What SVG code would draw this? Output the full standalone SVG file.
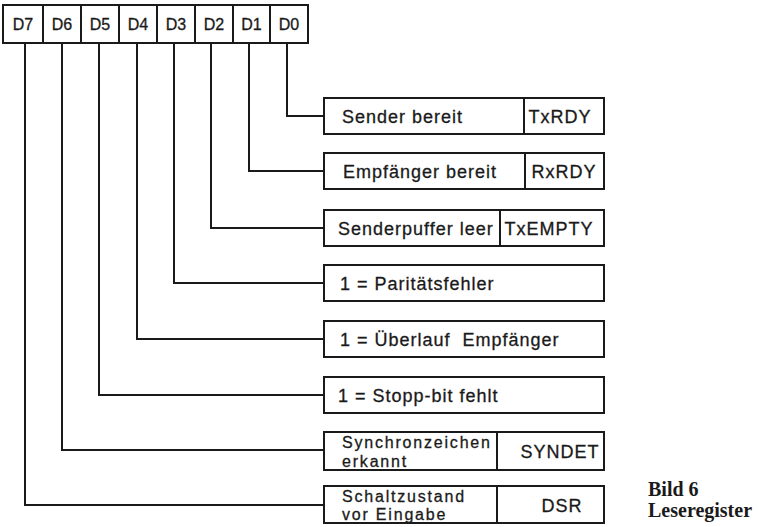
<svg xmlns="http://www.w3.org/2000/svg" width="759" height="527" viewBox="0 0 759 527">
<style>
.bx{fill:#fff;stroke:#1a1a1a;stroke-width:2}
.ln{fill:none;stroke:#1a1a1a;stroke-width:2}
.reg{font-family:"Liberation Sans",Arial,sans-serif;font-size:16px;fill:#1a1a1a;stroke:#1a1a1a;stroke-width:0.3;text-anchor:middle}
.t{font-family:"Liberation Sans",Arial,sans-serif;font-size:18px;letter-spacing:1px;fill:#1a1a1a;stroke:#1a1a1a;stroke-width:0.3}
.s{font-family:"Liberation Sans",Arial,sans-serif;font-size:16px;letter-spacing:1.8px;fill:#1a1a1a;stroke:#1a1a1a;stroke-width:0.3}
.m{text-anchor:middle}
.cap{font-family:"Liberation Serif","Times New Roman",serif;font-size:20px;font-weight:bold;fill:#1a1a1a}
</style>
<g id="register">
<rect class="bx" x="3" y="5" width="305" height="38"/>
<path class="ln" d="M43 5V43M81 5V43M119 5V43M157 5V43M195 5V43M233 5V43M270 5V43"/>
<text class="reg" x="23" y="30">D7</text>
<text class="reg" x="62" y="30">D6</text>
<text class="reg" x="100" y="30">D5</text>
<text class="reg" x="138" y="30">D4</text>
<text class="reg" x="176" y="30">D3</text>
<text class="reg" x="214" y="30">D2</text>
<text class="reg" x="251.5" y="30">D1</text>
<text class="reg" x="289" y="30">D0</text>
</g>
<g id="connectors">
<path class="ln" d="M287 43V116H324"/>
<path class="ln" d="M249 43V171H324"/>
<path class="ln" d="M211 43V228H324"/>
<path class="ln" d="M174 43V283H324"/>
<path class="ln" d="M137 43V339H324"/>
<path class="ln" d="M99 43V395H324"/>
<path class="ln" d="M62 43V450H324"/>
<path class="ln" d="M25 43V505H324"/>
</g>
<g id="d0">
<rect class="bx" x="324" y="98" width="280" height="36"/>
<path class="ln" d="M524 98V134"/>
<text class="t" x="342" y="123">Sender bereit</text>
<text class="t m" x="560" y="123">TxRDY</text>
</g>
<g id="d1">
<rect class="bx" x="324" y="153" width="280" height="36"/>
<path class="ln" d="M525 153V189"/>
<text class="t" x="343" y="178">Empfänger bereit</text>
<text class="t m" x="564" y="178">RxRDY</text>
</g>
<g id="d2">
<rect class="bx" x="324" y="210" width="280" height="36"/>
<path class="ln" d="M500 210V246"/>
<text class="t" x="338" y="235">Senderpuffer leer</text>
<text class="t m" x="549" y="235">TxEMPTY</text>
</g>
<g id="d3">
<rect class="bx" x="324" y="265" width="280" height="36"/>
<text class="t" x="340" y="290">1 = Paritätsfehler</text>
</g>
<g id="d4">
<rect class="bx" x="324" y="321" width="280" height="36"/>
<text class="t" x="340" y="346" xml:space="preserve">1 = Überlauf  Empfänger</text>
</g>
<g id="d5">
<rect class="bx" x="324" y="377" width="280" height="36"/>
<text class="t" x="338" y="402">1 = Stopp-bit fehlt</text>
</g>
<g id="d6">
<rect class="bx" x="324" y="432" width="280" height="38"/>
<path class="ln" d="M497 432V470"/>
<text class="s" x="342" y="448">Synchronzeichen</text>
<text class="s" x="342" y="467">erkannt</text>
<text class="t m" x="560" y="458">SYNDET</text>
</g>
<g id="d7">
<rect class="bx" x="324" y="486" width="280" height="37"/>
<path class="ln" d="M497 486V523"/>
<text class="s" x="342" y="502">Schaltzustand</text>
<text class="s" x="342" y="520">vor Eingabe</text>
<text class="t m" x="562" y="512">DSR</text>
</g>
<g id="caption">
<text class="cap" x="648" y="496">Bild 6</text>
<text class="cap" x="648" y="517">Leseregister</text>
</g>
</svg>
